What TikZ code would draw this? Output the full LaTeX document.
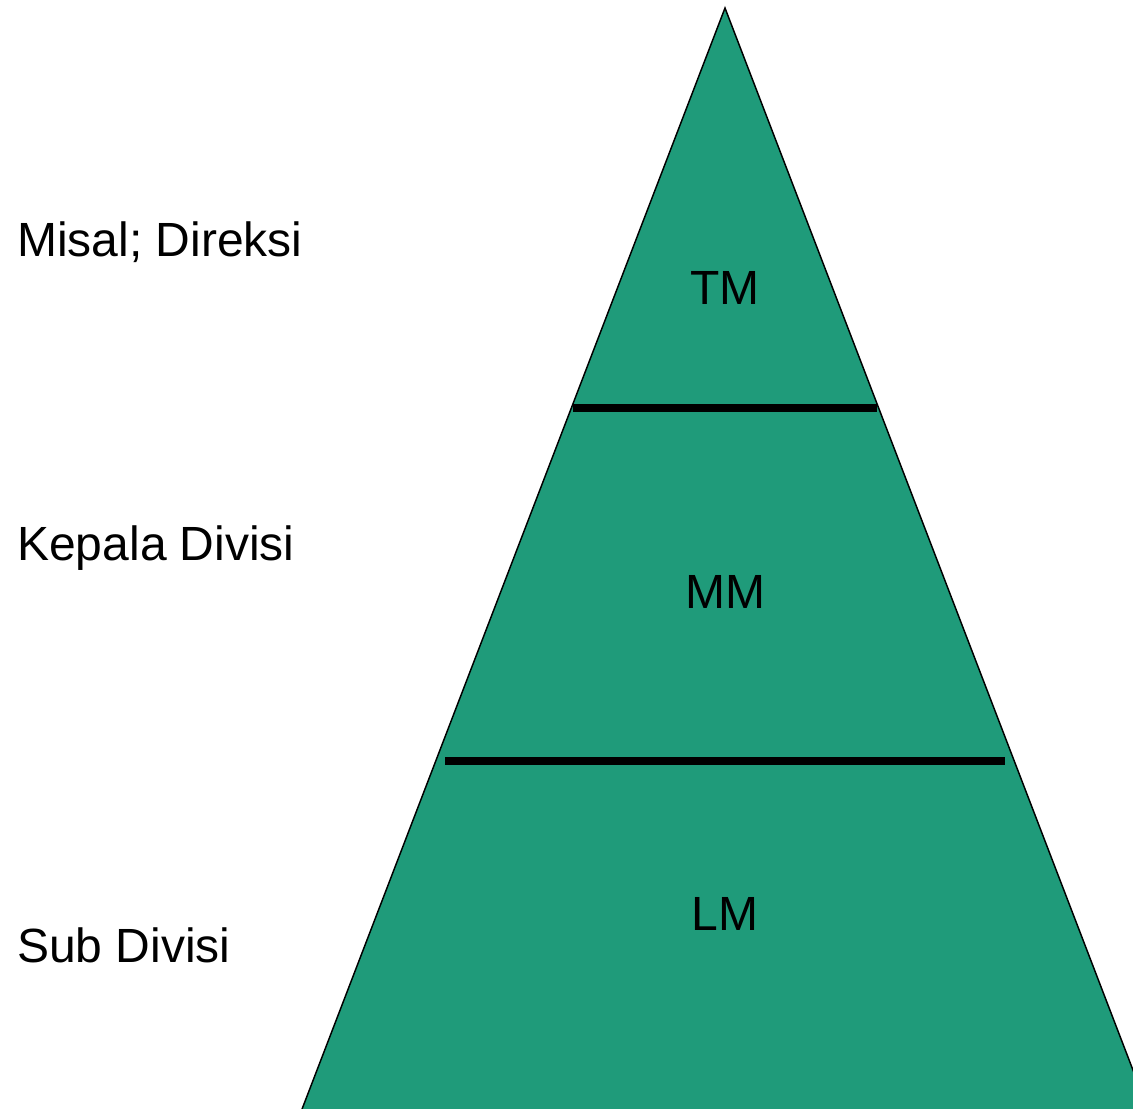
\documentclass[tikz,border=0pt]{standalone}
\usepackage{fontspec}
\setmainfont{Liberation Sans}
\usetikzlibrary{positioning}
\definecolor{pyramidgreen}{RGB}{31,155,122}
\tikzstyle{level} = [anchor=base, inner sep=0pt, font=\fontsize{36}{40}\selectfont]
\tikzstyle{role} = [anchor=base west, inner sep=0pt, font=\fontsize{36}{40}\selectfont]
\tikzstyle{divider} = [line width=5.4pt]

\begin{document}
\begin{tikzpicture}[x=0.75pt,y=-0.75pt]

\clip (0,0) rectangle (1133,1109);

% pyramid runs past the bottom edge of the page
\coordinate (apex) at (725,8);
\coordinate (baseL) at (294,1130);
\coordinate (baseR) at (1156,1130);
\filldraw [fill=pyramidgreen, draw=black, line width=1.1pt, line join=miter] (apex) -- (baseL) -- (baseR) -- cycle;

\coordinate (topL) at (573,408);
\coordinate (topR) at (877,408);
\coordinate (midL) at (445,761);
\coordinate (midR) at (1005,761);
\draw [divider] (topL) -- (topR);
\draw [divider] (midL) -- (midR);

\node (TM) [level] at (725,305) {TM};
\node (MM) [level] at (725,609) {MM};
\node (LM) [level] at (725,930) {LM};

\node (direksi) [role] at (17,257) {Misal; Direksi};
\node (kadiv) [role] at (17,561) {Kepala Divisi};
\node (subdiv) [role] at (17,962) {Sub Divisi};

\end{tikzpicture}
\end{document}
